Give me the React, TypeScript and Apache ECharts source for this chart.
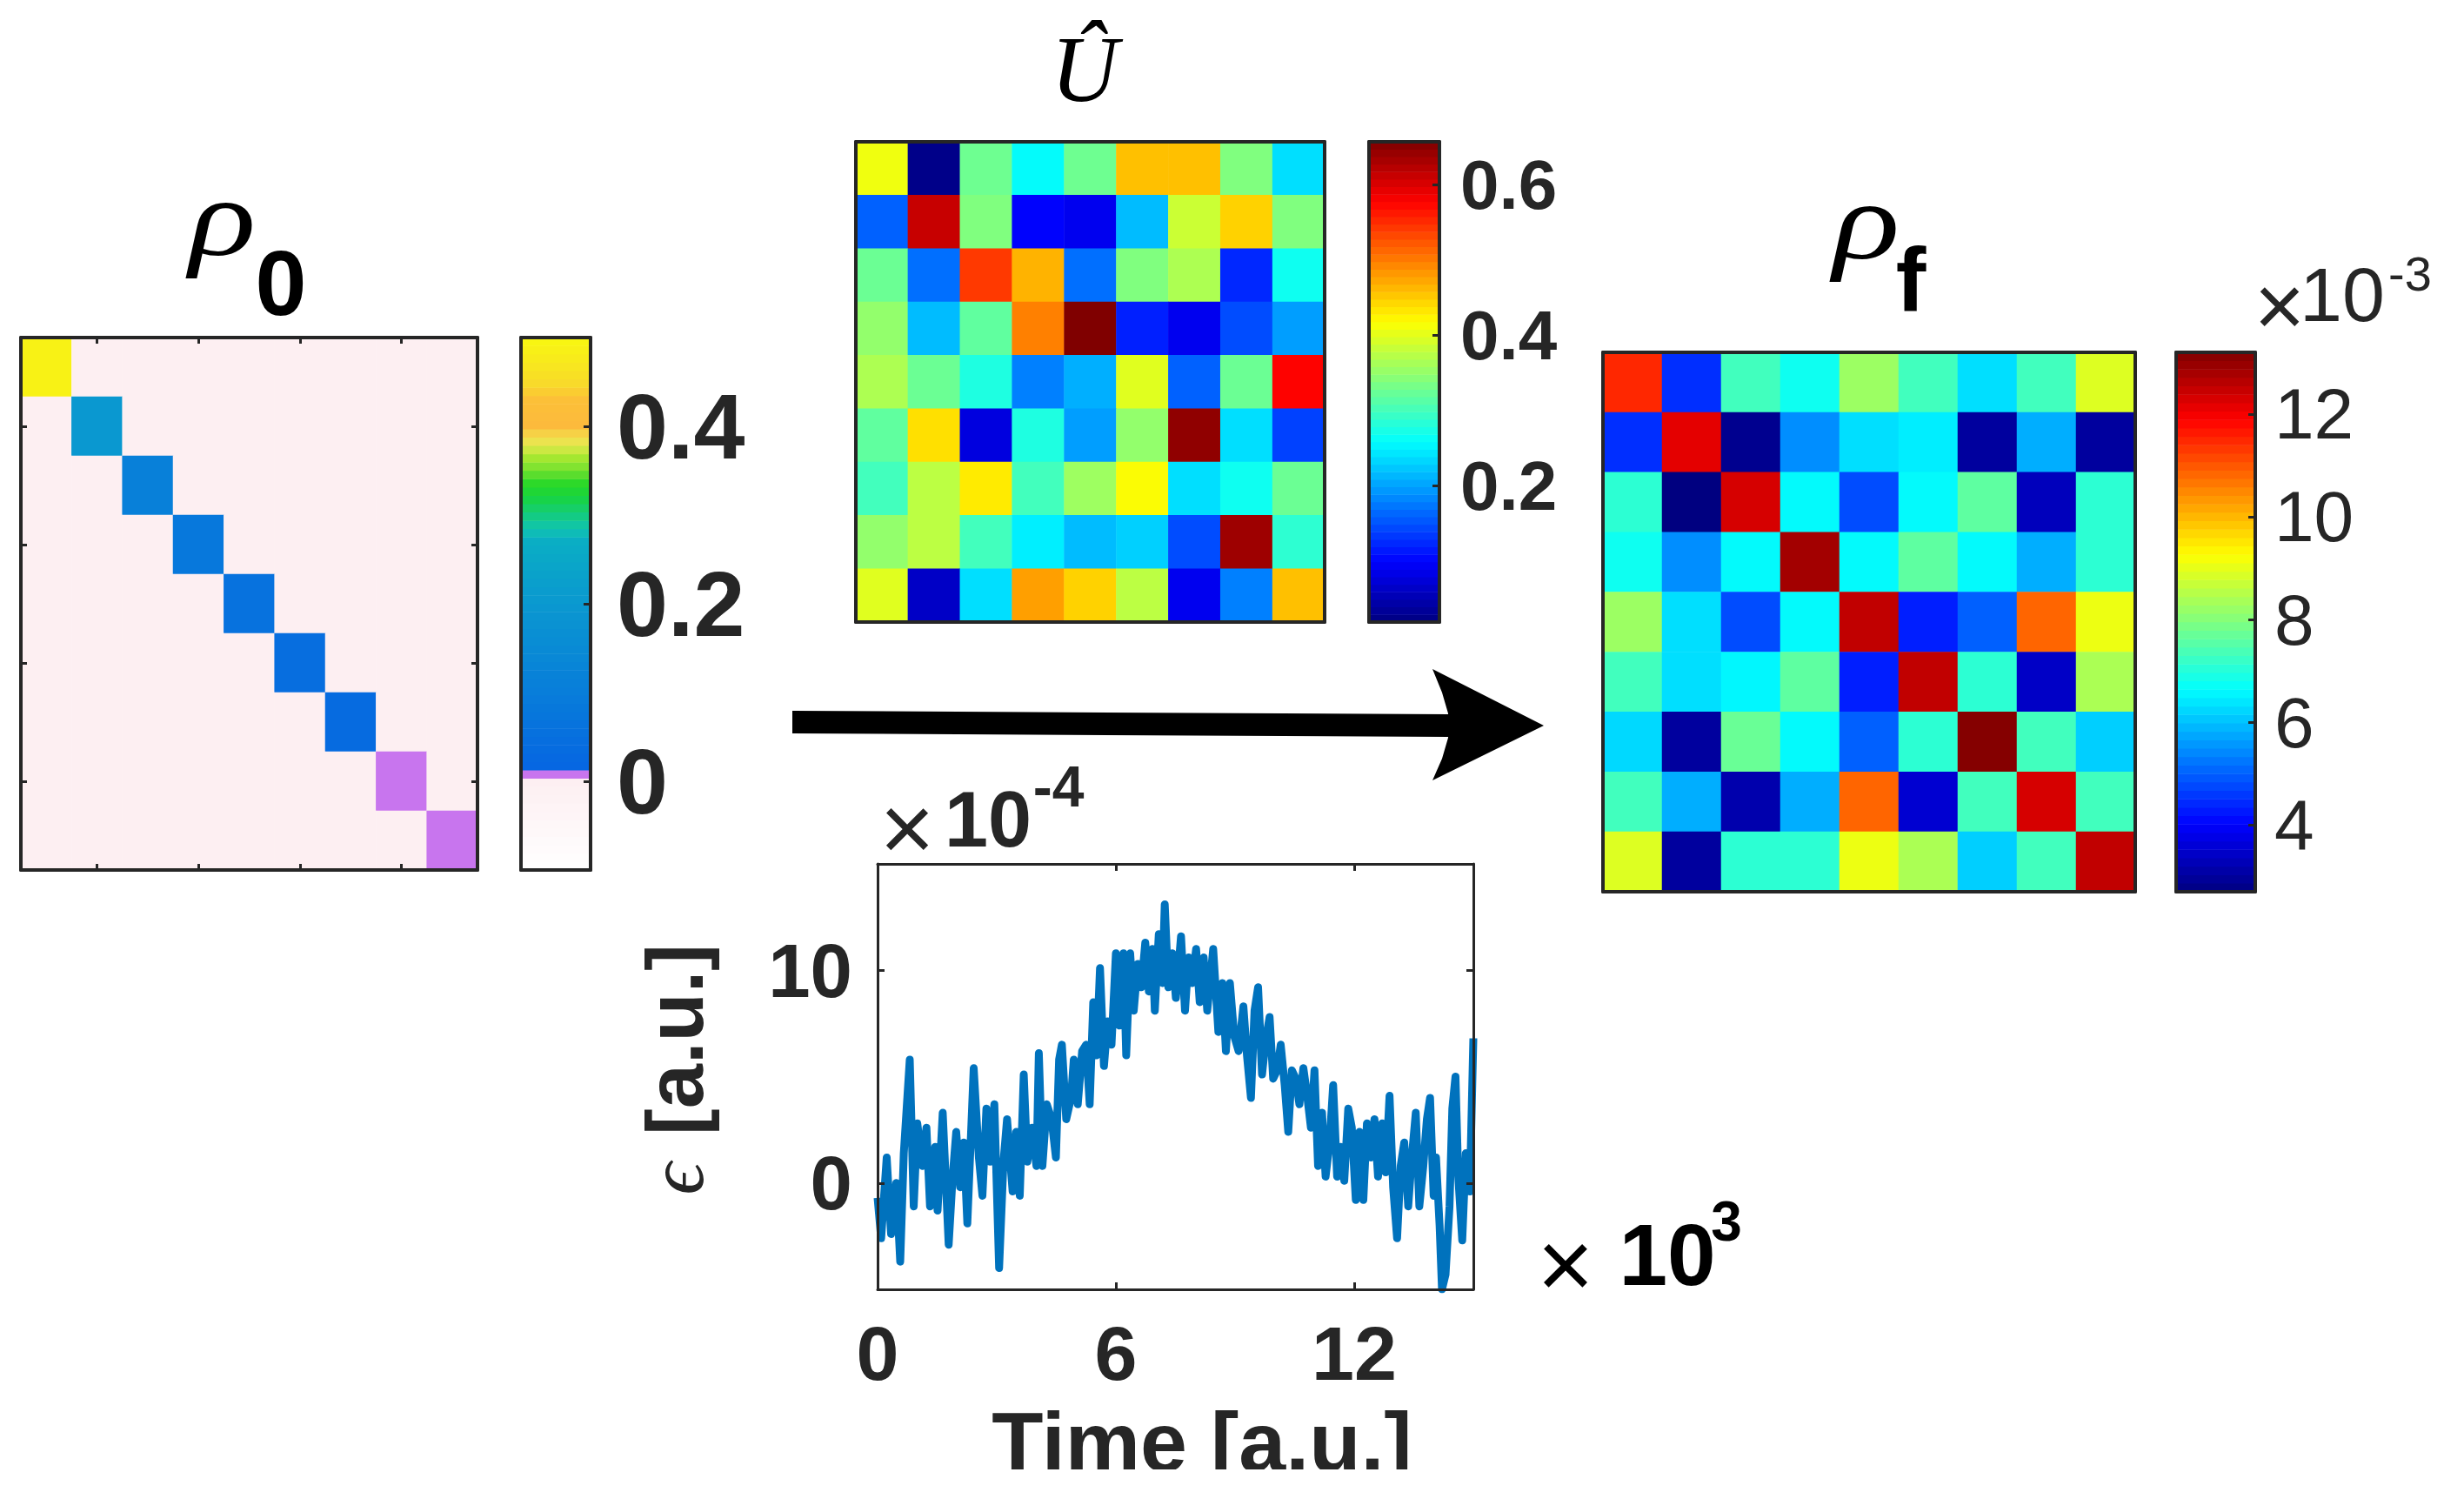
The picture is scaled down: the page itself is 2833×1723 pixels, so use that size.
import React, { useEffect, useRef } from "react";
import * as echarts from "echarts";

// ---------------- data ----------------
const cellIds = ["1", "2", "3", "4", "5", "6", "7", "8", "9"];

const rho0Diagonal = [0.49, 0.2, 0.11, 0.08, 0.06, 0.045, 0.035, 0.01, 0.01];
const rho0OffDiagonal = 0;

const uHat = [
  [0.408, 0.024, 0.327, 0.258, 0.327, 0.457, 0.457, 0.338, 0.238],
  [0.159, 0.612, 0.338, 0.098, 0.088, 0.216, 0.385, 0.446, 0.338],
  [0.325, 0.168, 0.542, 0.465, 0.168, 0.338, 0.366, 0.123, 0.267],
  [0.35, 0.216, 0.318, 0.497, 0.657, 0.118, 0.088, 0.146, 0.197],
  [0.366, 0.325, 0.277, 0.178, 0.208, 0.398, 0.159, 0.325, 0.577],
  [0.318, 0.437, 0.078, 0.277, 0.197, 0.35, 0.647, 0.238, 0.139],
  [0.299, 0.376, 0.43, 0.299, 0.357, 0.417, 0.238, 0.267, 0.325],
  [0.35, 0.376, 0.299, 0.248, 0.216, 0.229, 0.146, 0.638, 0.286],
  [0.398, 0.063, 0.238, 0.478, 0.446, 0.376, 0.088, 0.178, 0.457],
];

// x 10^-3
const rhoF = [
  [11.48, 4.48, 7.3, 6.78, 8.24, 7.3, 6.31, 7.3, 8.91],
  [4.48, 12.17, 2.86, 5.47, 6.31, 6.46, 3.01, 5.8, 3.01],
  [7.09, 2.7, 12.31, 6.62, 4.79, 6.62, 7.61, 3.33, 7.09],
  [6.78, 5.47, 6.62, 12.84, 6.62, 7.61, 6.62, 5.8, 7.09],
  [8.24, 6.31, 4.79, 6.62, 12.52, 4.33, 5.0, 10.85, 9.07],
  [7.3, 6.31, 6.57, 7.61, 4.33, 12.52, 7.09, 3.43, 8.4],
  [6.25, 3.01, 7.72, 6.62, 5.0, 7.09, 13.15, 7.3, 6.15],
  [7.3, 5.8, 3.17, 5.8, 10.85, 3.54, 7.3, 12.31, 7.3],
  [8.91, 3.01, 7.09, 7.09, 9.07, 8.4, 6.15, 7.3, 12.52],
];

// time in units of 10^3, epsilon in units of 10^-4
const timeK = [
  0, 0.09, 0.23, 0.34, 0.47, 0.57, 0.66, 0.81, 0.91, 1.0,
  1.13, 1.23, 1.32, 1.45, 1.51, 1.64, 1.79, 1.89, 1.98, 2.08,
  2.17, 2.26, 2.42, 2.55, 2.64, 2.74, 2.83, 2.94, 3.06, 3.17,
  3.26, 3.4, 3.49, 3.58, 3.68, 3.77, 3.89, 4.0, 4.06, 4.15,
  4.26, 4.38, 4.49, 4.57, 4.64, 4.75, 4.87, 4.94, 5.04, 5.15,
  5.25, 5.34, 5.43, 5.51, 5.6, 5.7, 5.79, 5.89, 6.0, 6.09,
  6.19, 6.26, 6.36, 6.45, 6.55, 6.64, 6.74, 6.83, 6.92, 6.98,
  7.08, 7.17, 7.23, 7.32, 7.42, 7.51, 7.64, 7.74, 7.83, 7.92,
  8.02, 8.11, 8.21, 8.3, 8.45, 8.58, 8.68, 8.77, 8.87, 8.98,
  9.09, 9.21, 9.3, 9.4, 9.49, 9.58, 9.68, 9.77, 9.87, 9.96,
  10.06, 10.15, 10.25, 10.34, 10.43, 10.53, 10.62, 10.72, 10.81, 10.91,
  11.0, 11.09, 11.19, 11.28, 11.38, 11.47, 11.57, 11.66, 11.75, 11.85,
  11.94, 12.04, 12.13, 12.23, 12.32, 12.42, 12.51, 12.6, 12.7, 12.79,
  12.89, 12.98, 13.08, 13.17, 13.26, 13.36, 13.45, 13.55, 13.64, 13.74,
  13.83, 13.91, 14.0, 14.06, 14.15, 14.21, 14.3, 14.4, 14.47, 14.55,
  14.62, 14.72, 14.81, 14.91, 15.0,
];
const epsilon = [
  -0.7, -2.6, 1.2, -2.4, 0, -3.7, 1.4, 5.8, -1.1, 2.8,
  0.8, 2.6, -1.1, 1.7, -1.3, 3.3, -2.9, 0.3, 2.4, -0.2,
  1.9, -1.9, 5.4, 1.2, -0.6, 3.5, 1.0, 3.7, -4.0, 1.0,
  3.0, -0.4, 2.4, -0.6, 5.1, 1.0, 2.6, 0.8, 6.1, 0.8,
  3.7, 3.0, 1.2, 5.8, 6.5, 3.0, 4.0, 5.8, 3.7, 6.2,
  6.5, 3.7, 8.5, 6.0, 10.1, 5.5, 7.6, 6.5, 10.8, 7.4,
  10.8, 6.0, 10.8, 8.1, 10.3, 9.2, 11.3, 9.0, 11.0, 8.1,
  11.7, 9.4, 13.1, 9.2, 10.8, 8.7, 11.6, 8.1, 10.6, 9.4,
  11.0, 8.5, 10.6, 8.1, 11.0, 7.1, 9.4, 6.2, 9.4, 6.9,
  6.2, 8.3, 6.0, 4.0, 8.1, 9.2, 5.1, 6.7, 7.8, 4.9,
  5.3, 6.5, 4.6, 2.4, 5.3, 4.9, 3.7, 5.4, 4.2, 2.6,
  5.3, 0.8, 3.3, 0.3, 1.9, 4.6, 0.3, 1.7, 0.1, 3.5,
  2.6, -0.8, 2.4, -0.8, 2.8, 1.2, 3.0, 0.3, 2.8, 0.5,
  4.1, -0.2, -2.6, 0.8, 1.9, -1.1, 1.2, 3.3, -1.1, 0.8,
  3.0, 4.0, -0.6, 1.2, -2.0, -5.0, -4.3, -1.1, 3.5, 5.0,
  0.3, -2.7, 1.4, -0.4, 6.8,
];

const rho0Range = [-0.1, 0.5];
const uRange = [0.0185, 0.657];
const rhoFRange = [2.7, 13.2];
const timeRange = [0, 15];
const epsRange = [-5, 15];

const rho0Ticks = [0, 0.2, 0.4];
const uTicks = [0.2, 0.4, 0.6];
const rhoFTicks = [4, 6, 8, 10, 12];
const timeTicks = [0, 6, 12];
const epsTicks = [0, 10];

// ---------------- colour maps (styling) ----------------
const rho0Stops: [number, string][] = [
  [-0.1, "#ffffff"],
  [0.0045, "#fdeef1"],
  [0.005, "#c875ee"],
  [0.014, "#c875ee"],
  [0.015, "#0666e2"],
  [0.2, "#0a98d0"],
  [0.27, "#0aaec4"],
  [0.285, "#10c4b0"],
  [0.3, "#14cc80"],
  [0.32, "#18d440"],
  [0.335, "#28d828"],
  [0.35, "#70e030"],
  [0.365, "#a8e830"],
  [0.38, "#e8e850"],
  [0.39, "#f4d848"],
  [0.4, "#fcba3c"],
  [0.43, "#fcc038"],
  [0.45, "#f8dc28"],
  [0.5, "#f8f810"],
];

function hexToRgb(h: string) {
  const n = parseInt(h.slice(1), 16);
  return [(n >> 16) & 255, (n >> 8) & 255, n & 255];
}
function rgbHex(r: number, g: number, b: number) {
  return (
    "#" +
    [r, g, b]
      .map((v) => Math.round(Math.max(0, Math.min(255, v))).toString(16).padStart(2, "0"))
      .join("")
  );
}
function sampleStops(stops: [number, string][], min: number, max: number, n: number) {
  const out: string[] = [];
  for (let i = 0; i < n; i++) {
    const v = min + ((max - min) * i) / (n - 1);
    let k = 0;
    while (k < stops.length - 2 && v > stops[k + 1][0]) k++;
    const [v0, c0] = stops[k];
    const [v1, c1] = stops[k + 1];
    const f = Math.max(0, Math.min(1, (v - v0) / (v1 - v0)));
    const a = hexToRgb(c0);
    const b = hexToRgb(c1);
    out.push(rgbHex(a[0] + (b[0] - a[0]) * f, a[1] + (b[1] - a[1]) * f, a[2] + (b[2] - a[2]) * f));
  }
  return out;
}
function jet(n: number) {
  const c = (x: number) => Math.max(0, Math.min(1, x));
  const out: string[] = [];
  for (let i = 0; i < n; i++) {
    const x = i / (n - 1);
    out.push(
      rgbHex(c(1.5 - Math.abs(4 * x - 3)) * 255, c(1.5 - Math.abs(4 * x - 2)) * 255, c(1.5 - Math.abs(4 * x - 1)) * 255)
    );
  }
  return out;
}

const AX = "#262626";
const SANS = '"Liberation Sans", Arial, Helvetica, sans-serif';
const SERIF = '"Liberation Serif", "Times New Roman", serif';

function buildOption() {
  const grids = [
    { left: 24, top: 388, width: 525, height: 612 }, // rho0
    { left: 599, top: 388, width: 80, height: 612 }, // rho0 colorbar
    { left: 984, top: 163, width: 539, height: 552 }, // U
    { left: 1574, top: 163, width: 81, height: 552 }, // U colorbar
    { left: 1843, top: 405, width: 612, height: 620 }, // rhoF
    { left: 2502, top: 405, width: 91, height: 620 }, // rhoF colorbar
    { left: 1009, top: 993, width: 685, height: 489 }, // line
  ].map((g) => ({ ...g, containLabel: false }));

  const xAxes: any[] = [];
  const yAxes: any[] = [];
  const series: any[] = [];
  const visualMaps: any[] = [];

  const frameLine = (w: number) => ({ show: true, onZero: false, lineStyle: { color: AX, width: w } });

  function heatmap(g: number, matrix: number[][], ticks: boolean) {
    const tick = ticks
      ? {
          show: true,
          inside: true,
          length: 7,
          alignWithLabel: true,
          interval: (i: number) => i % 2 === 1,
          lineStyle: { color: AX, width: 3 },
        }
      : { show: false };
    const xi = xAxes.length;
    for (const pos of ["bottom", "top"]) {
      xAxes.push({
        type: "category",
        gridIndex: g,
        data: cellIds,
        position: pos,
        axisLine: frameLine(4),
        axisTick: tick,
        axisLabel: { show: false },
        splitLine: { show: false },
        z: 10,
      });
    }
    const yi = yAxes.length;
    for (const pos of ["left", "right"]) {
      yAxes.push({
        type: "category",
        gridIndex: g,
        data: cellIds,
        inverse: true,
        position: pos,
        axisLine: frameLine(4),
        axisTick: tick,
        axisLabel: { show: false },
        splitLine: { show: false },
        z: 10,
      });
    }
    const data: number[][] = [];
    matrix.forEach((row, r) => row.forEach((v, c) => data.push([c, r, v])));
    series.push({
      type: "heatmap",
      xAxisIndex: xi,
      yAxisIndex: yi,
      data,
      itemStyle: { borderWidth: 0 },
      emphasis: { disabled: true },
    });
    return series.length - 1;
  }

  function colorbar(
    g: number,
    range: number[],
    ticks: number[],
    fmt: (v: number) => string,
    label: any
  ) {
    const nb = 64;
    const bins = Array.from({ length: nb }, (_, i) => String(i));
    const xi = xAxes.length;
    for (const pos of ["bottom", "top"]) {
      xAxes.push({
        type: "category",
        gridIndex: g,
        data: ["c"],
        position: pos,
        axisLine: frameLine(4),
        axisTick: { show: false },
        axisLabel: { show: false },
        splitLine: { show: false },
        z: 10,
      });
    }
    const yi = yAxes.length;
    yAxes.push({
      type: "category",
      gridIndex: g,
      data: bins,
      position: "left",
      axisLine: frameLine(4),
      axisTick: { show: false },
      axisLabel: { show: false },
      splitLine: { show: false },
      z: 10,
    });
    yAxes.push({
      type: "value",
      gridIndex: g,
      min: range[0],
      max: range[1],
      position: "right",
      axisLine: frameLine(4),
      axisTick: { show: true, inside: true, length: 8, customValues: ticks, lineStyle: { color: AX, width: 3 } },
      axisLabel: { show: true, customValues: ticks, formatter: fmt, color: AX, fontFamily: SANS, ...label },
      splitLine: { show: false },
      z: 10,
    });
    const data = bins.map((_, i) => [0, i, range[0] + ((i + 0.5) * (range[1] - range[0])) / nb]);
    series.push({
      type: "heatmap",
      xAxisIndex: xi,
      yAxisIndex: yi,
      data,
      emphasis: { disabled: true },
    });
    return series.length - 1;
  }

  // rho0
  const rho0Matrix = cellIds.map((_, r) => cellIds.map((__, c) => (r === c ? rho0Diagonal[r] : rho0OffDiagonal)));
  const s0 = heatmap(0, rho0Matrix, true);
  const s1 = colorbar(1, rho0Range, rho0Ticks, (v) => (v === 0 ? "0" : v.toFixed(1)), {
    fontSize: 106,
    fontWeight: "bold",
    margin: 30,
  });
  visualMaps.push({
    type: "continuous",
    show: false,
    seriesIndex: [s0, s1],
    dimension: 2,
    min: rho0Range[0],
    max: rho0Range[1],
    inRange: { color: sampleStops(rho0Stops, rho0Range[0], rho0Range[1], 601) },
  });

  // U
  const s2 = heatmap(2, uHat, false);
  const s3 = colorbar(3, uRange, uTicks, (v) => v.toFixed(1), { fontSize: 80, fontWeight: "bold", margin: 24 });
  visualMaps.push({
    type: "continuous",
    show: false,
    seriesIndex: [s2, s3],
    dimension: 2,
    min: uRange[0],
    max: uRange[1],
    inRange: { color: jet(64) },
  });

  // rhoF
  const s4 = heatmap(4, rhoF, false);
  const s5 = colorbar(5, rhoFRange, rhoFTicks, (v) => String(v), { fontSize: 82, fontWeight: "normal", margin: 22 });
  visualMaps.push({
    type: "continuous",
    show: false,
    seriesIndex: [s4, s5],
    dimension: 2,
    min: rhoFRange[0],
    max: rhoFRange[1],
    inRange: { color: jet(64) },
  });

  // line chart
  const lx = xAxes.length;
  for (const pos of ["bottom", "top"]) {
    xAxes.push({
      type: "value",
      gridIndex: 6,
      min: timeRange[0],
      max: timeRange[1],
      position: pos,
      axisLine: frameLine(3),
      axisTick: { show: true, inside: true, length: 8, customValues: timeTicks, lineStyle: { color: AX, width: 3 } },
      axisLabel:
        pos === "bottom"
          ? {
              show: true,
              customValues: timeTicks,
              margin: 40,
              fontSize: 88,
              lineHeight: 66,
              fontWeight: "bold",
              fontFamily: SANS,
              color: AX,
            }
          : { show: false },
      splitLine: { show: false },
      z: 10,
    });
  }
  const ly = yAxes.length;
  for (const pos of ["left", "right"]) {
    yAxes.push({
      type: "value",
      gridIndex: 6,
      min: epsRange[0],
      max: epsRange[1],
      position: pos,
      axisLine: frameLine(3),
      axisTick: { show: true, inside: true, length: 8, customValues: epsTicks, lineStyle: { color: AX, width: 3 } },
      axisLabel:
        pos === "left"
          ? { show: true, customValues: epsTicks, margin: 29, fontSize: 87, fontWeight: "bold", fontFamily: SANS, color: AX }
          : { show: false },
      splitLine: { show: false },
      z: 10,
    });
  }
  series.push({
    type: "line",
    xAxisIndex: lx,
    yAxisIndex: ly,
    data: timeK.map((t, i) => [t, epsilon[i]]),
    showSymbol: false,
    symbol: "none",
    clip: true,
    lineStyle: { color: "#0072bd", width: 9, join: "round" },
    emphasis: { disabled: true },
  });

  const txt = (
    text: string,
    x: number,
    y: number,
    fontSize: number,
    o: {
      weight?: string;
      style?: string;
      family?: string;
      fill?: string;
      rotation?: number;
      scaleX?: number;
      lineHeight?: number;
    } = {}
  ) => ({
    type: "text",
    x,
    y,
    rotation: o.rotation || 0,
    scaleX: o.scaleX || 1,
    z: 50,
    style: {
      text,
      fill: o.fill || "#000",
      fontSize,
      lineHeight: o.lineHeight,
      fontWeight: o.weight || "normal",
      fontStyle: o.style || "normal",
      fontFamily: o.family || SANS,
      align: "center",
      verticalAlign: "middle",
      textAlign: "center",
      textVerticalAlign: "middle",
    },
  });

  const graphic: any[] = [
    // titles
    txt("ρ", 256, 250, 128, { style: "italic", family: SERIF, scaleX: 1.25 }),
    txt("0", 323, 325, 106, { weight: "bold" }),
    txt("Û", 1247, 80, 107, { style: "italic", family: SERIF }),
    txt("ρ", 2146, 254, 128, { style: "italic", family: SERIF, scaleX: 1.25 }),
    txt("f", 2197, 321, 104, { weight: "bold" }),
    // rhoF multiplier
    txt("×", 2621, 351, 100, { fill: AX }),
    txt("10", 2693, 338, 88, { fill: AX }),
    txt("-3", 2771, 314, 56, { fill: AX }),
    // epsilon multiplier
    txt("×", 1043, 951, 108, { fill: AX }),
    txt("10", 1136, 942, 90, { fill: AX, weight: "bold" }),
    txt("-4", 1217, 904, 66, { fill: AX, weight: "bold" }),
    // time multiplier
    txt("×", 1800, 1453, 112, { fill: "#000" }),
    txt("10", 1917, 1442, 100, { fill: "#000", weight: "bold" }),
    txt("3", 1985, 1404, 64, { fill: "#000", weight: "bold" }),
    // axis titles
    txt("Time [a.u.]", 1382, 1657, 97, { fill: AX, weight: "bold", lineHeight: 76 }),
    txt("[a.u.]", 776, 1195, 92, { fill: AX, weight: "bold", rotation: Math.PI / 2 }),
    txt("ϵ", 777, 1355, 92, { fill: AX, style: "italic", family: SERIF, rotation: Math.PI / 2 }),
    // arrow
    {
      type: "polygon",
      z: 40,
      shape: { points: [[911, 817], [1666, 821], [1666, 847], [911, 843]] },
      style: { fill: "#000" },
    },
    {
      type: "polygon",
      z: 40,
      shape: {
        points: [
          [1647, 769],
          [1775, 834],
          [1647, 897],
          [1658, 872],
          [1665, 848],
          [1666, 834],
          [1665, 820],
          [1658, 796],
        ],
      },
      style: { fill: "#000" },
    },
    // figure edge clip
    { type: "rect", z: 100, shape: { x: 0, y: 1689, width: 2833, height: 40 }, style: { fill: "#ffffff" } },
  ];

  return {
    animation: false,
    backgroundColor: "#ffffff",
    grid: grids,
    xAxis: xAxes,
    yAxis: yAxes,
    visualMap: visualMaps,
    series,
    graphic,
  };
}

export default function App() {
  const ref = useRef<HTMLDivElement>(null);
  useEffect(() => {
    document.body.style.margin = "0";
    if (!ref.current) return;
    const chart = echarts.init(ref.current, null, { renderer: "svg" });
    chart.setOption(buildOption() as any);
    return () => chart.dispose();
  }, []);
  return <div ref={ref} style={{ width: 2833, height: 1723, background: "#fff" }} />;
}
